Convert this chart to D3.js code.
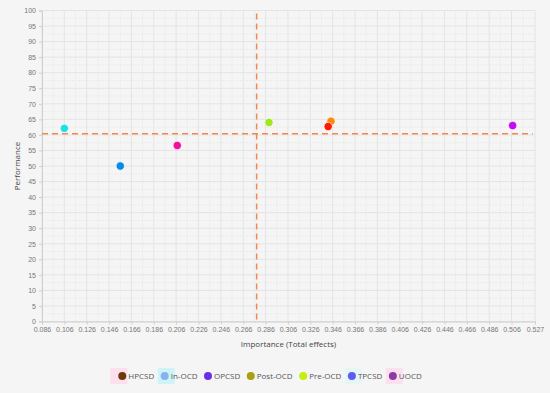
<!DOCTYPE html>
<html lang="en">
<head>
<meta charset="utf-8">
<script src="https://d3js.org/d3.v7.min.js"></script>
<style type="text/css">
body {
	margin: 0;
	background: #f5f5f5;
	font-family: "Open Sans", sans-serif;
}
.tick text {
	fill: #777;
	font-size: 7px;
}
</style>
</head>
<body>
<script type="text/javascript">

// series names (legend order) and the points
var seriesNames = ["HPCSD", "In-OCD", "OPCSD", "Post-OCD", "Pre-OCD", "TPCSD", "UOCD"];
var legendColors = ["#6b3b10", "#86b4f0", "#6a2ee8", "#aaa012", "#c6ec10", "#5b5cf0", "#8c3aa8"];
var legendHighlight = ["#fde0ec", "#cff4f7", null, null, null, "#e6f6f6", "#fde0ef"];

var importance = [0.106, 0.156, 0.207, 0.289, 0.3445, 0.342, 0.507];
var performance = [62.1, 50.0, 56.6, 64.0, 64.4, 62.7, 63.0];
var pointColors = ["#1ee0ea", "#0a8ae8", "#f0129e", "#a2e61c", "#ff8a0a", "#ff1a00", "#c40cf0"];

var xTicks = [0.086, 0.106, 0.126, 0.146, 0.166, 0.186, 0.206, 0.226, 0.246, 0.266, 0.286,
	0.306, 0.326, 0.346, 0.366, 0.386, 0.406, 0.426, 0.446, 0.466, 0.486, 0.506, 0.527];
var yTicks = d3.range(0, 101, 5);

// mean lines
var meanImportance = 0.278;
var meanPerformance = 60.4;

var width = 550;
var height = 393;
var margin = {left: 42, right: 15, top: 10, bottom: 72};

var x = d3.scaleLinear()
	.domain([0.086, 0.527])
	.range([margin.left, width - margin.right]);

var y = d3.scaleLinear()
	.domain([0, 100])
	.range([height - margin.bottom + 0.5, margin.top + 0.5]);

var svg = d3.select("body")
	.append("svg")
	.attr("width", width)
	.attr("height", height);

// minor grid
var minorX = [];
for (var i = 0; i < xTicks.length - 1; i++) minorX.push((xTicks[i] + xTicks[i + 1]) / 2);
var minorY = yTicks.slice(0, -1).map(function(d) { return d + 2.5; });

svg.append("g").selectAll("line")
	.data(minorX)
	.enter().append("line")
	.attr("x1", function(d) { return x(d); })
	.attr("x2", function(d) { return x(d); })
	.attr("y1", y(0))
	.attr("y2", y(100))
	.style("stroke", "#ebebeb")
	.style("stroke-dasharray", "2,1");

svg.append("g").selectAll("line")
	.data(minorY)
	.enter().append("line")
	.attr("x1", x(0.086))
	.attr("x2", x(0.527))
	.attr("y1", function(d) { return y(d); })
	.attr("y2", function(d) { return y(d); })
	.style("stroke", "#ebebeb")
	.style("stroke-dasharray", "2,1");

// major grid
svg.append("g").selectAll("line")
	.data(xTicks)
	.enter().append("line")
	.attr("x1", function(d) { return x(d); })
	.attr("x2", function(d) { return x(d); })
	.attr("y1", y(0))
	.attr("y2", y(100))
	.style("stroke", "#e4e4e4");

svg.append("g").selectAll("line")
	.data(yTicks)
	.enter().append("line")
	.attr("x1", x(0.086))
	.attr("x2", x(0.527))
	.attr("y1", function(d) { return y(d); })
	.attr("y2", function(d) { return y(d); })
	.style("stroke", "#e4e4e4");

// axes
var xAxis = svg.append("g")
	.attr("transform", "translate(0," + y(0) + ")")
	.call(d3.axisBottom(x).tickValues(xTicks).tickSize(3).tickPadding(3)
		.tickFormat(function(d) { return d.toFixed(3); }));

var yAxis = svg.append("g")
	.attr("transform", "translate(" + x(0.086) + ",0)")
	.call(d3.axisLeft(y).tickValues(yTicks).tickSize(3).tickPadding(3));

[xAxis, yAxis].forEach(function(a) {
	a.select(".domain").style("stroke", "#cfcfcf");
	a.selectAll(".tick line").style("stroke", "#cfcfcf");
});

svg.append("text")
	.attr("x", (x(0.086) + x(0.527)) / 2)
	.attr("y", 347)
	.attr("text-anchor", "middle")
	.style("font-size", "8px")
	.style("fill", "#444")
	.text("Importance (Total effects)");

svg.append("text")
	.attr("transform", "translate(20," + y(50) + ") rotate(-90)")
	.attr("text-anchor", "middle")
	.style("font-size", "8px")
	.style("fill", "#444")
	.text("Performance");

// dashed mean lines
svg.append("line")
	.attr("x1", x(0.086))
	.attr("x2", x(0.525))
	.attr("y1", y(meanPerformance))
	.attr("y2", y(meanPerformance))
	.style("stroke", "#f2884e")
	.style("stroke-width", 1.5)
	.style("stroke-dasharray", "6,4");

svg.append("line")
	.attr("x1", x(meanImportance))
	.attr("x2", x(meanImportance))
	.attr("y1", y(99))
	.attr("y2", y(0))
	.style("stroke", "#f2884e")
	.style("stroke-width", 1.5)
	.style("stroke-dasharray", "6,4");

// points
svg.append("g").selectAll("circle")
	.data(importance)
	.enter().append("circle")
	.attr("cx", function(d) { return x(d); })
	.attr("cy", function(d, i) { return y(performance[i]); })
	.attr("r", 4.2)
	.style("fill", function(d, i) { return pointColors[i]; })
	.style("stroke", "#fafafa")
	.style("stroke-width", 0.8);

// legend
var legend = svg.append("g");

var cursor = 0;
seriesNames.forEach(function(name, i) {
	var g = legend.append("g").attr("transform", "translate(" + cursor + ",0)");
	if (legendHighlight[i]) {
		g.append("rect")
			.attr("x", i === 0 ? -12 : -7)
			.attr("y", -8)
			.attr("width", 17)
			.attr("height", 16)
			.style("fill", legendHighlight[i]);
	}
	g.append("circle")
		.attr("cx", 0)
		.attr("cy", 0)
		.attr("r", 4)
		.style("fill", legendColors[i]);
	var t = g.append("text")
		.attr("x", 6)
		.attr("y", 3)
		.style("font-size", "8px")
		.style("fill", "#555")
		.text(name);
	cursor += 6 + t.node().getComputedTextLength() + 10.5;
});
var total = cursor - 10.5 + 4;
legend.attr("transform", "translate(" + (270 - total / 2 + 4) + ",376)");

</script>
</body>
</html>
